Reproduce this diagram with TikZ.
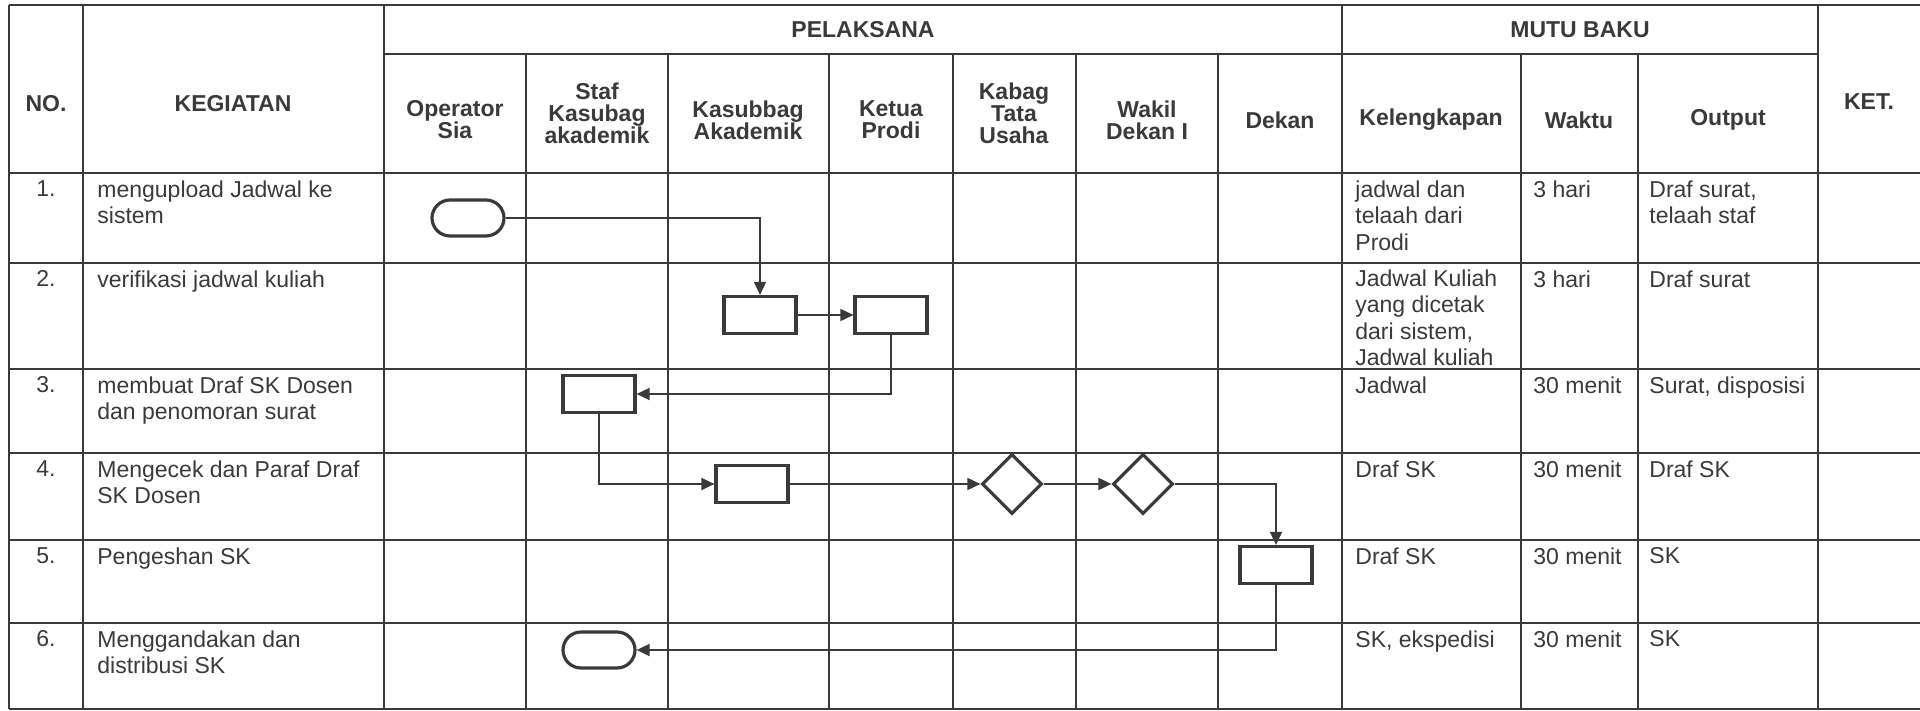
\documentclass[tikz,border=0pt]{standalone}
\usepackage{fontspec}
\setmainfont{Liberation Sans}
\usepackage{tikz}
\usetikzlibrary{shapes.geometric}
\usetikzlibrary{arrows.meta}
\definecolor{ink}{HTML}{3A3A3A}
\newcommand\headfont{\fontsize{11.5pt}{11pt}\selectfont\bfseries\lineskiplimit-20pt\relax}
\tikzset{
  grid line/.style={draw=ink,line width=0.8pt},
  head/.style={font=\headfont,align=center,text=ink,inner sep=0pt},
  cell/.style={font=\fontsize{11.5pt}{13.3pt}\selectfont,align=left,text=ink,inner sep=0pt,anchor=north west},
  num/.style={font=\fontsize{11.5pt}{13.3pt}\selectfont,text=ink,inner sep=0pt,anchor=north},
  proc box/.style={rectangle,draw=ink,line width=1.6pt,fill=white,minimum width=36pt,minimum height=18.5pt,inner sep=0pt},
  term node/.style={rectangle,rounded corners=9pt,draw=ink,line width=1.6pt,fill=white,minimum width=36pt,minimum height=18pt,inner sep=0pt},
  decision/.style={diamond,draw=ink,line width=1.6pt,fill=white,minimum width=30pt,minimum height=30pt,inner sep=0pt},
  flow/.style={draw=ink,line width=0.9pt,->}
}

\begin{document}
\begin{tikzpicture}[x=0.5pt,y=-0.5pt,>={Triangle[length=6.5pt,width=6pt]}]
  \useasboundingbox (0,0) rectangle (1920,711);
  % table
  \draw[grid line] (9,5) -- (1920,5);
  \draw[grid line] (384,54) -- (1818,54);
  \foreach \y in {173,263,369,453,540,623,709}
    \draw[grid line] (9,\y) -- (1920,\y);
  \foreach \x in {9,83,384,1342,1818}
    \draw[grid line] (\x,5) -- (\x,709);
  \foreach \x in {526,668,829,953,1076,1218,1521,1638}
    \draw[grid line] (\x,54) -- (\x,709);

  % header
  \node[head] (hno) at (46,104) {NO.};
  \node[head] (hkeg) at (233,104) {KEGIATAN};
  \node[head] (hpel) at (863,30) {PELAKSANA};
  \node[head] (hmutu) at (1580,30) {MUTU BAKU};
  \node[head] (hket) at (1869,102) {KET.};
  \node[head] (hop) at (455,120) {Operator\\Sia};
  \node[head] (hstaf) at (597,113) {Staf\\Kasubag\\akademik};
  \node[head] (hkasub) at (748,120) {Kasubbag\\Akademik};
  \node[head] (hketua) at (891,120) {Ketua\\Prodi};
  \node[head] (hkabag) at (1014,113) {Kabag\\Tata\\Usaha};
  \node[head] (hwakil) at (1147,120) {Wakil\\Dekan I};
  \node[head] (hdekan) at (1280,120) {Dekan};
  \node[head] (hkel) at (1431,120) {Kelengkapan};
  \node[head] (hwaktu) at (1579,120) {Waktu};
  \node[head] (hout) at (1728,120) {Output};

  % rows
  \node[num] (n1) at (46,180) {1.};
  \node[num] (n2) at (46,270) {2.};
  \node[num] (n3) at (46,376) {3.};
  \node[num] (n4) at (46,460) {4.};
  \node[num] (n5) at (46,547) {5.};
  \node[num] (n6) at (46,630) {6.};
  \node[cell] (k1) at (97,180) {mengupload Jadwal ke\\sistem};
  \node[cell] (k2) at (97,270) {verifikasi jadwal kuliah};
  \node[cell] (k3) at (97,376) {membuat Draf SK Dosen\\dan penomoran surat};
  \node[cell] (k4) at (97,460) {Mengecek dan Paraf Draf\\SK Dosen};
  \node[cell] (k5) at (97,547) {Pengeshan SK};
  \node[cell] (k6) at (97,630) {Menggandakan dan\\distribusi SK};
  \node[cell] (kel1) at (1355,180) {jadwal dan\\telaah dari\\Prodi};
  \node[cell] (kel2) at (1355,269) {Jadwal Kuliah\\yang dicetak\\dari sistem,\\Jadwal kuliah};
  \node[cell] (kel3) at (1355,376) {Jadwal};
  \node[cell] (kel4) at (1355,460) {Draf SK};
  \node[cell] (kel5) at (1355,547) {Draf SK};
  \node[cell] (kel6) at (1355,630) {SK, ekspedisi};
  \node[cell] (w1) at (1533,180) {3 hari};
  \node[cell] (w2) at (1533,270) {3 hari};
  \node[cell] (w3) at (1533,376) {30 menit};
  \node[cell] (w4) at (1533,460) {30 menit};
  \node[cell] (w5) at (1533,547) {30 menit};
  \node[cell] (w6) at (1533,630) {30 menit};
  \node[cell] (o1) at (1649,180) {Draf surat,\\telaah staf};
  \node[cell] (o2) at (1649,270) {Draf surat};
  \node[cell] (o3) at (1649,376) {Surat, disposisi};
  \node[cell] (o4) at (1649,460) {Draf SK};
  \node[cell] (o5) at (1649,547) {SK};
  \node[cell] (o6) at (1649,630) {SK};

  % flow
  \node[term node] (mulai) at (468,218) {};
  \node[proc box] (verif) at (760,315) {};
  \node[proc box] (cekprodi) at (891,315) {};
  \node[proc box] (draf) at (599,394) {};
  \node[proc box] (cekkasub) at (752,484) {};
  \node[decision] (parafkabag) at (1012,484) {};
  \node[decision] (parafwakil) at (1143,484) {};
  \node[proc box] (sah) at (1276,565) {};
  \node[term node] (selesai) at (599,650) {};

  \draw[flow] (mulai.east) -| (verif.north);
  \draw[flow] (verif) -- (cekprodi);
  \draw[flow] (cekprodi.south) |- (draf.east);
  \draw[flow] (draf.south) |- (cekkasub.west);
  \draw[flow] (cekkasub) -- (parafkabag);
  \draw[flow] (parafkabag) -- (parafwakil);
  \draw[flow] (parafwakil.east) -| (sah.north);
  \draw[flow] (sah.south) |- (selesai.east);
\end{tikzpicture}
\end{document}
